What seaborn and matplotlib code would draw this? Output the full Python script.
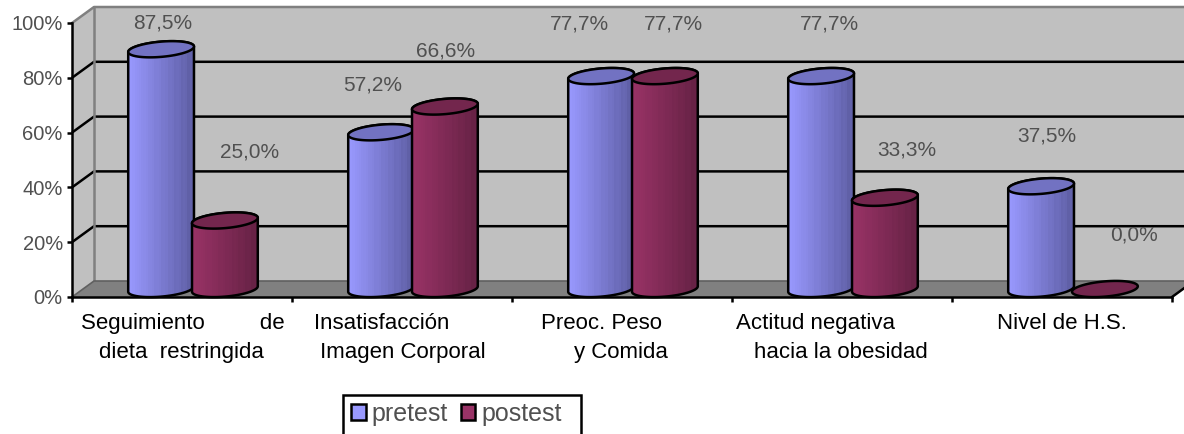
import numpy as np
import pandas as pd
import matplotlib
matplotlib.use("Agg")
import matplotlib.pyplot as plt
import seaborn as sns
from matplotlib.colors import to_rgb
from matplotlib.patches import Patch, PathPatch, Polygon, Rectangle
from matplotlib.path import Path

categories = ["Seguimiento de dieta restringida", "Insatisfacción Imagen Corporal",
              "Preoc. Peso y Comida", "Actitud negativa hacia la obesidad", "Nivel de H.S."]
pretest = [87.5, 57.2, 77.7, 77.7, 37.5]
postest = [25.0, 66.6, 77.7, 33.3, 0.0]
series_names = ["pretest", "postest"]
y_ticks = [0, 20, 40, 60, 80, 100]

# Two-line axis captions with the spacing used in the report
caption_lines = [
    ["Seguimiento         de", "dieta  restringida"],
    ["Insatisfacción", " Imagen Corporal"],
    ["Preoc. Peso", "y Comida"],
    ["Actitud negativa", "hacia la obesidad"],
    ["Nivel de H.S.", ""],
]
caption_left_px = [(81, 99), (314, 314), (541, 574), (736, 754), (997, 997)]

# Value label placement relative to each cylinder top, in pixels
pre_label_offset = [(2, 26), (-8, 47), (-22, 52), (8, 52), (6, 50)]
post_label_offset = [(25, 69), (1, 56), (9, 52), (22, 48), (29, 54)]

W, H = 1184, 434
LEFT, RIGHT, TOP, BOTTOM = 72, 1172, 23, 297
DEPTH_X, DEPTH_Y = 22, 16
PX_X = 5 / (RIGHT - LEFT)
PX_Y = 100 / (BOTTOM - TOP)
DX, DY = DEPTH_X * PX_X, DEPTH_Y * PX_Y

COLORS = {"pretest": "#9999FF", "postest": "#993366"}
CAPS = {"pretest": "#7272C2", "postest": "#73264D"}
SHADE = {"pretest": "#5F5FA6", "postest": "#662245"}
TEXT_FONT = ["Liberation Sans", "DejaVu Sans"]
TEXT_COLOR = "#505050"
LW = 1.8

sns.set_theme(style="white")
fig = plt.figure(figsize=(W / 100, H / 100), dpi=100, facecolor="white")
ax = fig.add_axes([LEFT / W, 1 - BOTTOM / H, (RIGHT - LEFT) / W, (BOTTOM - TOP) / H])
ax.patch.set_visible(False)

df = pd.DataFrame({
    "category": categories * 2,
    "group": [series_names[0]] * 5 + [series_names[1]] * 5,
    "value": pretest + postest,
})
sns.barplot(data=df, x="category", y="value", hue="group", palette=COLORS,
            width=0.58, gap=0, dodge=True, legend=False, ax=ax, errorbar=None)
ax.set_xlim(-0.5, 4.5)
ax.set_ylim(0, 100)

# Walls and floor of the 3-D box, sitting behind the bars
x0, x1 = -0.5, 4.5
def poly(pts, **kw):
    ax.add_patch(Polygon(pts, closed=True, clip_on=False, **kw))
poly([(x0 + DX, DY), (x1 + DX, DY), (x1 + DX, 100 + DY), (x0 + DX, 100 + DY)],
     fc="#C0C0C0", ec="none", zorder=0.1)
poly([(x0, 0), (x0 + DX, DY), (x0 + DX, 100 + DY), (x0, 100)], fc="#C0C0C0", ec="none", zorder=0.1)
poly([(x0, 0), (x1, 0), (x1 + DX, DY), (x0 + DX, DY)], fc="#808080", ec="none", zorder=0.2)

for tick in y_ticks[1:-1]:
    ax.plot([x0, x0 + DX, x1 + DX], [tick, tick + DY, tick + DY], color="black", lw=LW,
            clip_on=False, zorder=0.5, solid_capstyle="butt")
ax.plot([x0, x0 + DX, x1 + DX], [100, 100 + DY, 100 + DY], color="#808080", lw=LW,
        clip_on=False, zorder=0.5)
ax.plot([x0 + DX, x0 + DX], [DY, 100 + DY], color="#808080", lw=LW, clip_on=False, zorder=0.5)
ax.plot([x0, x0 + DX, x1 + DX], [0, DY, DY], color="#606060", lw=1.2, clip_on=False, zorder=0.5)
ax.plot([x1, x1 + DX], [0, DY], color="black", lw=LW, clip_on=False, zorder=0.5)

# Cylinders replace the flat bars, reusing their position and height
A, B, THETA = 33.0, 7.6, np.radians(5.0)
T_R = np.arctan2(-B * np.sin(THETA), A * np.cos(THETA))
T_L = T_R + np.pi
RAMP = np.linspace(0, 1, 30) + np.where(np.arange(30) % 3 == 0, 0.05, -0.02) * np.linspace(0, 1, 30)

def ellipse_points(cx, cy, t):
    ex = A * np.cos(t) * np.cos(THETA) - B * np.sin(t) * np.sin(THETA)
    ey = A * np.cos(t) * np.sin(THETA) + B * np.sin(t) * np.cos(THETA)
    return np.column_stack([cx + ex * PX_X, cy + ey * PX_Y])

def cylinder(xc, value, name, z):
    cx = xc + DX / 2
    base_y, top_y = DY / 2, value + DY / 2
    top = ellipse_points(cx, top_y, np.linspace(0, 2 * np.pi, 160))
    if value > 0:
        lower = ellipse_points(cx, base_y, np.linspace(T_L, T_R + 2 * np.pi, 80))
        upper = ellipse_points(cx, top_y, np.linspace(T_R, T_L, 80))
        verts = np.vstack([lower, upper, lower[:1]])
        body = PathPatch(Path(verts, closed=True), fc="none", ec="black", lw=LW,
                         clip_on=False, zorder=z + 0.1, joinstyle="round")
        ax.add_patch(body)
        c0, c1 = np.array(to_rgb(COLORS[name])), np.array(to_rgb(SHADE[name]))
        stripes = np.clip(RAMP, 0, 1)[None, :, None] * (c1 - c0)[None, None, :] + c0
        img = ax.imshow(stripes, extent=(lower[:, 0].min(), lower[:, 0].max(), 0, 100 + DY),
                        aspect="auto", interpolation="nearest", zorder=z, clip_on=True)
        img.set_clip_path(PathPatch(Path(verts, closed=True), transform=ax.transData))
    ax.add_patch(Polygon(top, closed=True, fc=CAPS[name], ec="black", lw=LW,
                         clip_on=False, zorder=z + 0.2))

rects = [p for p in ax.patches if isinstance(p, Rectangle)]
order = sorted(rects, key=lambda r: r.get_x())
z = 2.0
for i, rect in enumerate(order):
    name = series_names[i % 2]
    value = rect.get_height()
    xc = rect.get_x() + rect.get_width() / 2
    rect.set_visible(False)
    cylinder(xc, value, name, z)
    z += 0.5
    dx, dy = (pre_label_offset if i % 2 == 0 else post_label_offset)[i // 2]
    ax.text(xc + DX / 2 + dx * PX_X, value + DY / 2 + dy * PX_Y, f"{value:.1f}%".replace(".", ","),
            ha="center", va="center", fontsize=15, family=TEXT_FONT, color=TEXT_COLOR,
            clip_on=False, zorder=20)
ax.set_xlim(-0.5, 4.5)
ax.set_ylim(0, 100)

# Axes frame and ticks
for side in ("top", "right"):
    ax.spines[side].set_visible(False)
for side in ("left", "bottom"):
    ax.spines[side].set_color("black")
    ax.spines[side].set_linewidth(LW)
    ax.spines[side].set_zorder(30)
ax.set_xlabel("")
ax.set_ylabel("")
ax.set_yticks(y_ticks, [f"{t}%" for t in y_ticks], fontsize=14.5, family=TEXT_FONT, color=TEXT_COLOR)
ax.set_xticks(np.arange(-0.5, 5.0), [""] * 6)
ax.tick_params(axis="both", length=3.6, width=LW, color="black", left=True, bottom=True, pad=3)

# Category captions
for lines, lefts in zip(caption_lines, caption_left_px):
    for text, px, py in zip(lines, lefts, (329, 358)):
        fig.text(px / W, 1 - py / H, text, ha="left", va="baseline", fontsize=16,
                 family=TEXT_FONT, color="black")

# Legend, with a box running off the bottom edge of the figure
fig.add_artist(Rectangle((342.5 / W, -0.05), 238.5 / W, 0.05 + 1 - 394.5 / H, fill=False,
                         ec="black", lw=LW, transform=fig.transFigure))
handles = [Patch(fc=COLORS[n], ec="black", lw=LW, label=n) for n in series_names]
ax.legend(handles=handles, ncols=2, frameon=False, loc="center left",
          bbox_to_anchor=(351 / W, 1 - 414 / H), bbox_transform=fig.transFigure,
          prop={"family": TEXT_FONT, "size": 18}, labelcolor=TEXT_COLOR,
          handlelength=0.58, handleheight=0.58, handletextpad=0.25, columnspacing=0.5,
          borderpad=0, borderaxespad=0)

fig.savefig("out.png", dpi=100)
